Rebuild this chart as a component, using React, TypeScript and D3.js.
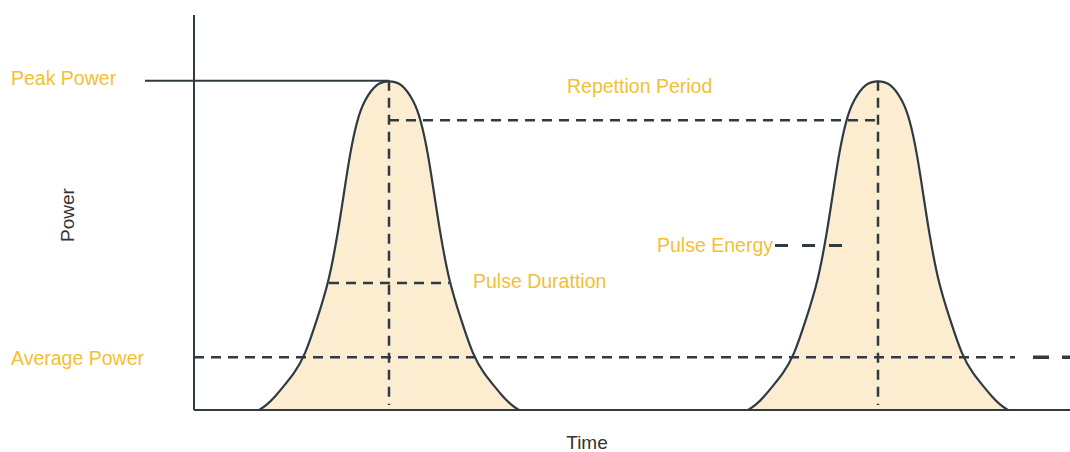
import * as React from "react"
import { scaleLinear, line, area, curveBasis } from "d3"

// pulse shape: time offset from the pulse centre vs power (%)
const pulseCenters = [195, 684]
const pulseOffsets = [-130, -122, -114, -106, -95, -84, -72, -60, -51, -45, -39, -32, -25, -12, 0, 12, 25, 32, 39, 45, 51, 60, 72, 84, 95, 106, 114, 122, 130]
const pulsePower = [0, 1.6, 4, 7, 11, 16.5, 27.5, 39, 54, 66, 78, 88, 94, 99.5, 100, 99.5, 94, 88, 78, 66, 54, 39, 27.5, 16.5, 11, 7, 4, 1.6, 0]

// annotation levels (power %)
const peakPower = 100
const repetitionLevel = 88
const energyLevel = 50
const durationLevel = 38.6
const averagePower = 16
const durationHalfWidth = 60
const centerLineEnd = 1.5

const labels = ["Peak Power", "Repettion Period", "Pulse Energy", "Pulse Durattion", "Average Power"]

const width = 1070
const height = 452
const ink = "#2f3a42"
const gold = "#f3bf35"
const fill = "#fcedd1"
const font = "'Liberation Sans', Arial, sans-serif"

export default function App() {
  const x = scaleLinear().domain([0, 876]).range([194, 1070])
  const y = scaleLinear().domain([0, 120]).range([410, 15])

  const pts = (c: number) => pulseOffsets.map((o, i) => [c + o, pulsePower[i]] as [number, number])
  const pulseLine = line<[number, number]>()
    .x((d) => x(d[0]))
    .y((d) => y(d[1]))
    .curve(curveBasis)
  const pulseArea = area<[number, number]>()
    .x((d) => x(d[0]))
    .y0(y(0))
    .y1((d) => y(d[1]))
    .curve(curveBasis)

  const [c1, c2] = pulseCenters
  const dash = "10,7"

  return (
    <svg width={width} height={height} style={{ position: "absolute", left: 0, top: 0 }} fontFamily={font}>
      {pulseCenters.map((c) => (
        <path key={"a" + c} d={pulseArea(pts(c)) || ""} fill={fill} />
      ))}

      {/* peak power */}
      <line x1={x(-49)} x2={x(c1)} y1={y(peakPower)} y2={y(peakPower)} stroke={ink} strokeWidth={2} />
      {/* repetition period */}
      <line x1={x(c1)} x2={x(c2)} y1={y(repetitionLevel)} y2={y(repetitionLevel)} stroke={ink} strokeWidth={2.5} strokeDasharray={dash} />
      {/* centre lines */}
      {pulseCenters.map((c) => (
        <line key={"v" + c} x1={x(c)} x2={x(c)} y1={y(peakPower)} y2={y(centerLineEnd)} stroke={ink} strokeWidth={2.5} strokeDasharray={dash} />
      ))}
      {/* pulse duration */}
      <line x1={x(c1 - durationHalfWidth)} x2={x(c1 + durationHalfWidth)} y1={y(durationLevel)} y2={y(durationLevel)} stroke={ink} strokeWidth={2.5} strokeDasharray={dash} />
      {/* average power */}
      <line x1={x(0)} x2={x(821)} y1={y(averagePower)} y2={y(averagePower)} stroke={ink} strokeWidth={2.5} strokeDasharray={dash} />
      <line x1={x(839)} x2={x(876)} y1={y(averagePower)} y2={y(averagePower)} stroke={ink} strokeWidth={3.5} strokeDasharray="16,13" />
      {/* pulse energy */}
      <line x1={x(581)} x2={x(654)} y1={y(energyLevel)} y2={y(energyLevel)} stroke={ink} strokeWidth={3} strokeDasharray="13,14" />

      {pulseCenters.map((c) => (
        <path key={"l" + c} d={pulseLine(pts(c)) || ""} fill="none" stroke={ink} strokeWidth={2.2} />
      ))}

      {/* axes */}
      <line x1={x(0)} x2={x(0)} y1={y(120)} y2={y(0)} stroke={ink} strokeWidth={2} />
      <line x1={x(0)} x2={x(876)} y1={y(0)} y2={y(0)} stroke={ink} strokeWidth={2} />

      <g fill={gold} fontSize={19.5}>
        <text x={11} y={y(peakPower) + 4}>{labels[0]}</text>
        <text x={567} y={y(repetitionLevel) - 27}>{labels[1]}</text>
        <text x={x(581) - 2} y={y(energyLevel) + 7} textAnchor="end">{labels[2]}</text>
        <text x={473} y={y(durationLevel) + 5}>{labels[3]}</text>
        <text x={11} y={y(averagePower) + 8}>{labels[4]}</text>
      </g>

      <text x={587} y={449} textAnchor="middle" fontSize={19} fill="#333">Time</text>
      <text transform="translate(74,215) rotate(-90)" textAnchor="middle" fontSize={19} fill="#333">Power</text>
    </svg>
  )
}
